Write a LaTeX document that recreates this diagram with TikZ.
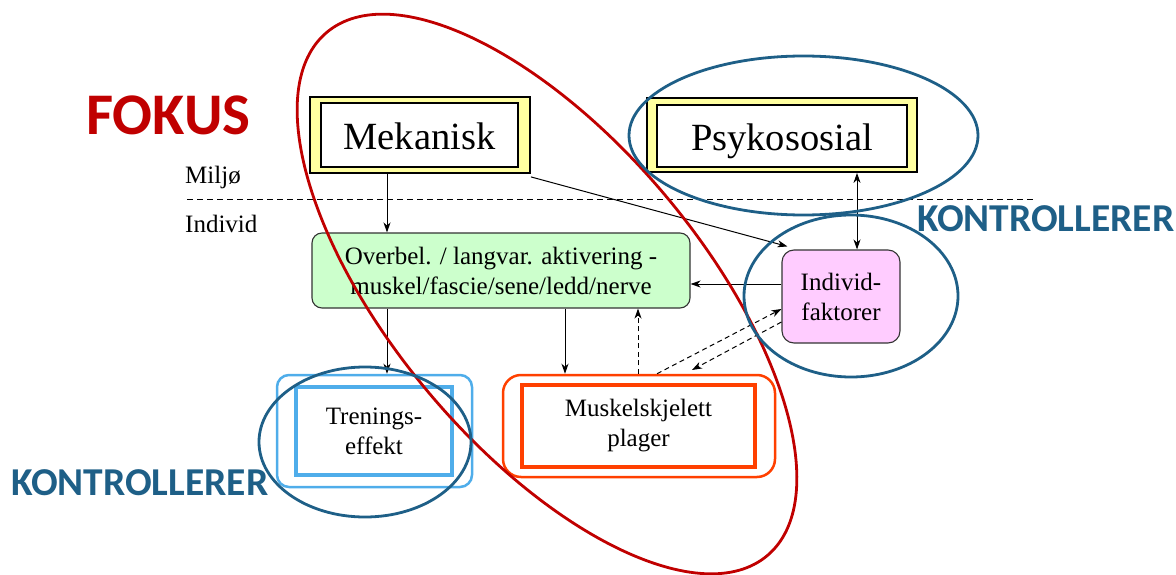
\documentclass[tikz,border=0pt]{standalone}
\usepackage{fontspec}
\setmainfont{Liberation Serif}
\newfontfamily\calfont{Carlito}
\usetikzlibrary{arrows.meta}
\definecolor{yel}{RGB}{255,255,160}
\definecolor{grn}{RGB}{204,255,204}
\definecolor{pnk}{RGB}{255,204,255}
\definecolor{lblue}{RGB}{79,173,234}
\definecolor{orng}{RGB}{255,64,0}
\definecolor{dblue}{RGB}{30,95,135}
\definecolor{dred}{RGB}{192,0,0}
\tikzset{
  bigtxt/.style={font=\fontsize{38.5}{44}\selectfont},
  smalltxt/.style={font=\fontsize{25}{30}\selectfont},
  outerbox/.style={draw=black, line width=1.8pt, fill=yel, inner sep=0pt},
  innerbox/.style={draw=black, line width=2.8pt, fill=white, inner sep=0pt, bigtxt, text height=32pt, text depth=2pt},
  greenbox/.style={draw=black!80, line width=1.1pt, fill=grn, rounded corners=10pt, inner sep=0pt, smalltxt, align=center},
  pinkbox/.style={draw=black!80, line width=1.1pt, fill=pnk, rounded corners=12pt, inner sep=0pt, smalltxt, align=center},
  bluebox/.style={draw=lblue, line width=2.8pt, inner sep=0pt},
  orbox/.style={draw=orng, line width=2.8pt, inner sep=0pt},
  arrtip/.style={},
  arr/.style={draw=black, line width=1pt, -{Stealth[length=10pt,width=7pt,inset=3pt]}},
  darr/.style={arr, dash pattern=on 5pt off 3.5pt},
  ell/.style={line width=2.8pt},
  kontr/.style={text=dblue, font=\calfont\bfseries\fontsize{39.5}{42}\selectfont, inner sep=0pt, anchor=west},
}
\begin{document}
\begin{tikzpicture}[x=1pt,y=-1pt]
\useasboundingbox (0,0) rectangle (1176,575);
% top boxes
\node[outerbox, minimum width=220, minimum height=76] (mek) at (420,135) {};
\node[innerbox, minimum width=197, minimum height=64] (mekin) at (419.5,135) {Mekanisk};
\node[outerbox, minimum width=270, minimum height=74] (psyk) at (782,135) {};
\node[innerbox, minimum width=250, minimum height=62] (psykin) at (782,136) {Psykososial};
% separator
\coordinate (sepL) at (187,200);
\coordinate (sepR) at (1035,200);
\draw[line width=1pt, dash pattern=on 6pt off 4pt] (sepL) -- (sepR);
\node[smalltxt, anchor=base west, inner sep=0pt] (miljo) at (185,183) {Miljø};
\node[smalltxt, anchor=base west, inner sep=0pt] (indtxt) at (185,232) {Individ};
% middle boxes
\node[greenbox, minimum width=378, minimum height=75] (green) at (501,270.5) {Overbel. / langvar. aktivering -\\muskel/fascie/sene/ledd/nerve};
\node[pinkbox, minimum width=118, minimum height=93] (indiv) at (841,296.5) {Individ-\\faktorer};
% bottom boxes
\node[bluebox, line width=2.5pt, rounded corners=12pt, minimum width=195, minimum height=112] (tren) at (374.5,431) {};
\node[bluebox, line width=3.4pt, minimum width=156, minimum height=88, smalltxt, align=center] (trenin) at (374,431) {Trenings-\\effekt};
\node[orbox, line width=2.5pt, rounded corners=18pt, minimum width=272, minimum height=102] (musk) at (639,426) {};
\node[orbox, line width=3.4pt, minimum width=233, minimum height=82, smalltxt, align=center] (muskin) at (638.5,426) {Muskelskjelett\\plager};
% connectors
\draw[arr] (387,0 |- mek.south) -- (387,0 |- green.north);
\draw[arr] ([yshift=-3pt]mek.south east) -- ([xshift=6pt,yshift=3pt]indiv.north west);
\draw[line width=1pt, {Stealth[length=10pt,width=7pt,inset=3pt]}-{Stealth[length=10pt,width=7pt,inset=3pt]}] (857,0 |- psyk.south) -- (857,0 |- indiv.north);
\draw[arr] (indiv.west |- 0,284) -- (green.east |- 0,284);
\draw[arr] (387,0 |- green.south) -- (387,0 |- tren.north);
\draw[arr] (565,0 |- green.south) -- (565,0 |- musk.north);
\draw[darr] (638,0 |- musk.north) -- (638,0 |- green.south);
\draw[darr] (657,0 |- musk.north) -- (indiv.west |- 0,309);
\coordinate (dend) at (692,370);
\draw[darr] (indiv.west |- 0,322) -- (dend);
% labels
\node[text=dred, font=\calfont\bfseries\fontsize{59}{62}\selectfont, inner sep=0pt, anchor=west] (fokus) at (86,115) {FOKUS};
\node[kontr] (k1) at (917,219) {KONTROLLERER};
\node[kontr] (k2) at (11,483) {KONTROLLERER};
% ellipses
\draw[ell, draw=dred, rotate around={-49.9:(547,294)}] (547,294) ellipse [x radius=342pt, y radius=154pt];
\draw[ell, draw=dblue] (803.5,135.5) ellipse [x radius=174.5pt, y radius=79.5pt];
\draw[ell, draw=dblue] (851,296) ellipse [x radius=107pt, y radius=81pt];
\draw[ell, draw=dblue] (365,442) ellipse [x radius=106pt, y radius=75pt];
\end{tikzpicture}
\end{document}
